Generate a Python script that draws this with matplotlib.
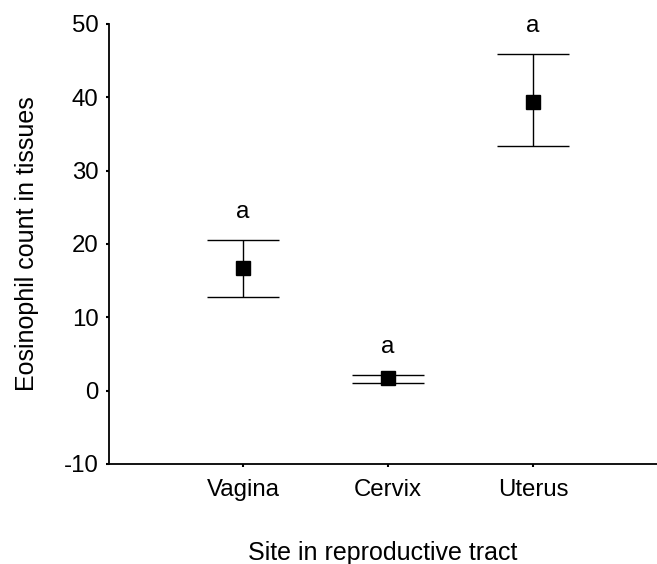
import matplotlib
matplotlib.use("Agg")
import matplotlib.pyplot as plt

sites = ["Vagina", "Cervix", "Uterus"]
means = [16.7, 1.7, 39.4]
upper = [20.6, 2.2, 45.9]
lower = [12.8, 1.1, 33.3]
letters = ["a", "a", "a"]

plt.rcParams['font.family'] = ['Liberation Sans', 'DejaVu Sans']
plt.rcParams['axes.unicode_minus'] = False

fig = plt.figure(figsize=(6.57, 5.64), dpi=100)
ax = fig.add_axes([109 / 657, 1 - 464 / 564, (657 - 109) / 657, 440 / 564])

x = [1, 2, 3]
yerr = [[m - l for m, l in zip(means, lower)], [u - m for m, u in zip(means, upper)]]
ax.errorbar(x, means, yerr=yerr, fmt='s', color='black', ms=9.5,
            elinewidth=1.0, capsize=26, capthick=1.0)
for xi, u, t in zip(x, upper, letters):
    ax.text(xi, u + 3.8, t, ha='center', va='center', fontsize=17.5, clip_on=False)

ax.set_xlim(0.076, 3.855)
ax.set_ylim(-10, 50)
ax.set_yticks([-10, 0, 10, 20, 30, 40, 50])
ax.set_xticks(x)
ax.set_xticklabels(sites)
ax.tick_params(direction='out', length=2.5, width=1.5, labelsize=17.3, pad=5)
ax.tick_params(axis='x', pad=8)
for s in ['top', 'right']:
    ax.spines[s].set_visible(False)
for s in ['left', 'bottom']:
    ax.spines[s].set_linewidth(1.3)
ax.set_ylabel("Eosinophil count in tissues", fontsize=18, labelpad=18)
ax.set_xlabel("Site in reproductive tract", fontsize=18, labelpad=29)

fig.savefig("out.png", dpi=100)
